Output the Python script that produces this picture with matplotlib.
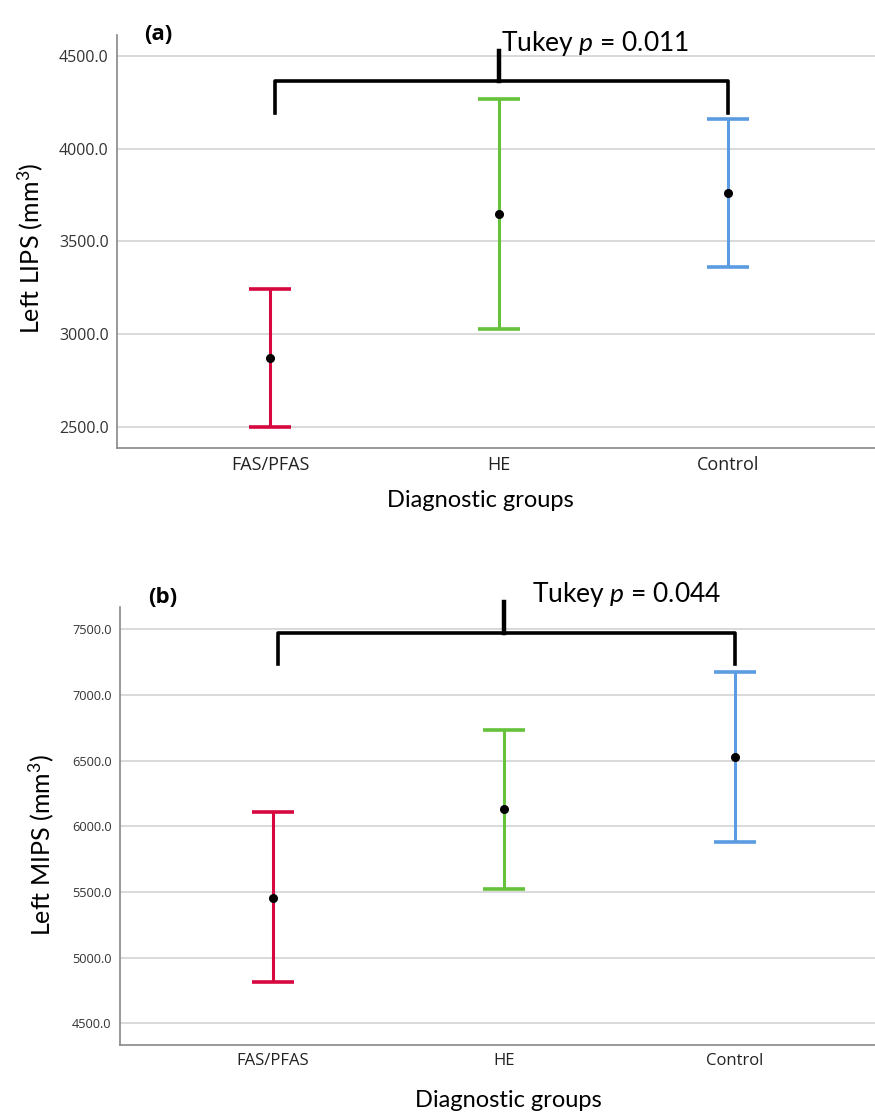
import matplotlib.pyplot as plt

plt.rcParams['font.family'] = ['Lato', 'DejaVu Sans']
plt.rcParams['mathtext.fontset'] = 'custom'
plt.rcParams['mathtext.rm'] = 'Lato'
plt.rcParams['mathtext.it'] = 'Lato:italic'

groups = ["FAS/PFAS", "HE", "Control"]
colors = ['#D6083F', '#65C23A', '#5A9BE2']

lips_mean = [2872, 3650, 3760]
lips_low = [2500, 3028, 3362]
lips_high = [3244, 4270, 4160]

mips_mean = [5456, 6129, 6530]
mips_low = [4812, 5525, 5883]
mips_high = [6106, 6731, 7177]

lips_ticks = [2500, 3000, 3500, 4000, 4500]
mips_ticks = [4500, 5000, 5500, 6000, 6500, 7000, 7500]


def panel(ax, mean, low, high, ticks, ylim, xlim, ylabel, tag, tag_y, ptext, ptext_x,
          br_y, br_leg, br_top, tick_fs, xt_fs, ylab_pos, xlab_pos):
    x = range(len(groups))
    for i in x:
        ax.errorbar(i, mean[i], yerr=[[mean[i] - low[i]], [high[i] - mean[i]]],
                    fmt='none', ecolor=colors[i], elinewidth=2.2, capsize=15,
                    capthick=2.6, zorder=3)
    ax.plot(list(x), mean, 'o', color='black', ms=5.5, zorder=4)
    ax.set_ylim(*ylim)
    ax.set_xlim(*xlim)
    ax.set_yticks(ticks)
    ax.set_yticklabels([f"{t:.1f}" for t in ticks], fontsize=tick_fs,
                       family='Open Sans', color='#333333')
    ax.set_xticks(list(x))
    ax.set_xticklabels(groups, fontsize=xt_fs, family='Open Sans', color='#222222')
    ax.tick_params(length=0, pad=6)
    ax.grid(axis='y', color='#cfcfcf', lw=1.1)
    ax.set_axisbelow(True)
    for s in ['top', 'right']:
        ax.spines[s].set_visible(False)
    for s in ['left', 'bottom']:
        ax.spines[s].set_color('#888888')
        ax.spines[s].set_linewidth(1.2)
    ax.set_ylabel(ylabel, fontsize=18)
    ax.yaxis.set_label_coords(*ylab_pos)
    ax.set_xlabel("Diagnostic groups", fontsize=17)
    ax.xaxis.set_label_coords(*xlab_pos)

    # significance bracket
    ax.plot([0.02, 0.02, 2.0, 2.0], [br_leg, br_y, br_y, br_leg], color='black',
            lw=2.6, solid_joinstyle='round', clip_on=False, zorder=5)
    ax.plot([1.0, 1.0], [br_y, br_top], color='black', lw=3.2, clip_on=False, zorder=5)
    ax.text(ptext_x, br_top, ptext, fontsize=19, ha='left', va='baseline')
    ax.text(xlim[0] + 0.12, tag_y, tag, fontsize=16, fontweight='bold',
            family='Open Sans', ha='left', va='baseline')


fig = plt.figure(figsize=(8.75, 11.13), dpi=100)
ax1 = fig.add_axes([0.1337, 0.5975, 0.8663, 0.3711])
ax2 = fig.add_axes([0.1371, 0.0611, 0.8629, 0.3935])

panel(ax1, lips_mean, lips_low, lips_high, lips_ticks, (2387, 4613), (-0.668, 2.64),
      r"Left LIPS (mm$^{3}$)", "(a)", 4586, r"Tukey $p$ = 0.011", 1.01,
      4365, 4193, 4525, 11.5, 13, (-0.095, 0.484), (0.479, -0.102))
panel(ax2, mips_mean, mips_low, mips_high, mips_ticks, (4335, 7670), (-0.662, 2.606),
      r"Left MIPS (mm$^{3}$)", "(b)", 7700, r"Tukey $p$ = 0.044", 1.12,
      7474, 7233, 7705, 9.2, 12, (-0.085, 0.457), (0.514, -0.103))

fig.savefig("out.png", dpi=100)
